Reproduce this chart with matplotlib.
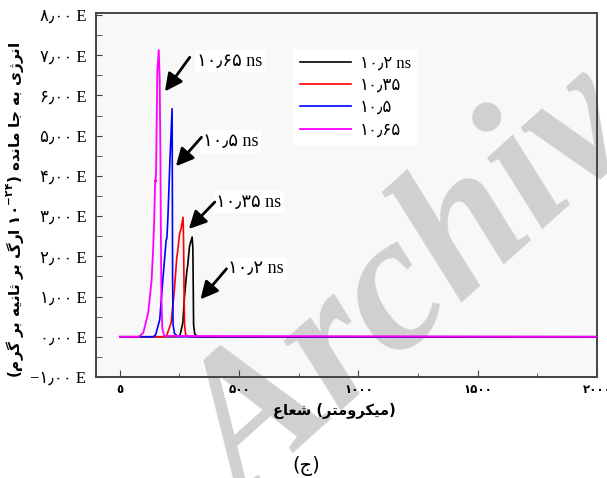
import matplotlib.pyplot as plt
import numpy as np

# contextual letter forms (isolated, final[, initial, medial]) for the Persian labels
FORMS = {
    'ا': '\uFE8D\uFE8E', 'ب': '\uFE8F\uFE90\uFE91\uFE92', 'ت': '\uFE95\uFE96\uFE97\uFE98',
    'ث': '\uFE99\uFE9A\uFE9B\uFE9C', 'ج': '\uFE9D\uFE9E\uFE9F\uFEA0', 'د': '\uFEA9\uFEAA',
    'ر': '\uFEAD\uFEAE', 'ژ': '\uFB8A\uFB8B', 'ش': '\uFEB5\uFEB6\uFEB7\uFEB8',
    'ع': '\uFEC9\uFECA\uFECB\uFECC', 'ک': '\uFB8E\uFB8F\uFB90\uFB91', 'گ': '\uFB92\uFB93\uFB94\uFB95',
    'م': '\uFEE1\uFEE2\uFEE3\uFEE4', 'ن': '\uFEE5\uFEE6\uFEE7\uFEE8', 'ه': '\uFEE9\uFEEA\uFEEB\uFEEC',
    'و': '\uFEED\uFEEE', 'ی': '\uFBFC\uFBFD\uFBFE\uFBFF',
}


def shape(word):
    # join letters and return them in visual (left to right) order
    out = []
    for i, ch in enumerate(word):
        f = FORMS.get(ch)
        if f is None:
            out.append(ch)
            continue
        prev = word[i - 1] if i > 0 else ''
        nxt = word[i + 1] if i + 1 < len(word) else ''
        jp = prev in FORMS and len(FORMS[prev]) == 4
        jn = len(f) == 4 and nxt in FORMS
        out.append(f[3] if jp and jn else f[1] if jp else f[2] if jn else f[0])
    return ''.join(reversed(out))


def phrase(text):
    return ' '.join(shape(w) for w in reversed(text.split()))


fa = str.maketrans('0123456789', '۰۱۲۳۴۵۶۷۸۹')

#=========================================================#
# remaining energy vs radius, four times
r_102 = [0, 240, 252, 264, 271, 281, 284, 292, 303, 306, 308, 309, 314, 325, 2000]
e_102 = [0, 0, 0.03, 0.35, 1.0, 1.65, 1.75, 2.25, 2.48, 2.2, 1.0, 0.3, 0.07, 0, 0]

r_1035 = [0, 190, 196, 215, 229, 239, 242, 250, 257, 265, 267, 269, 271, 276, 290, 2000]
e_1035 = [0, 0, 0.03, 0.35, 1.2, 2.0, 2.1, 2.55, 2.7, 2.97, 2.4, 1.2, 0.3, 0.05, 0, 0]

r_105 = [0, 140, 150, 167, 180, 194, 197, 201, 210, 219, 220, 221, 223, 229, 245, 2000]
e_105 = [0, 0, 0.05, 0.42, 1.4, 2.4, 2.45, 2.9, 4.4, 5.67, 3.8, 1.5, 0.3, 0.08, 0, 0]

r_1065 = [0, 80, 98, 119, 133, 140, 144, 147, 149, 150, 152, 157, 163, 167, 170, 172, 174, 178, 186, 2000]
e_1065 = [0, 0, 0.1, 0.6, 1.4, 2.25, 2.9, 3.7, 3.9, 3.85, 4.2, 6.6, 7.13, 6.4, 4.5, 2.5, 1.0, 0.2, 0.02, 0]

legend_labels = ['۱۰٫۲ ns', '۱۰٫۳۵', '۱۰٫۵', '۱۰٫۶۵']
arrow_labels = ['۱۰٫۶۵ ns', '۱۰٫۵ ns', '۱۰٫۳۵ ns', '۱۰٫۲ ns']
arrow_tail = [(293, 6.95), (342, 4.96), (398, 3.35), (447, 1.69)]
arrow_head = [(189, 6.10), (235, 4.24), (289, 2.68), (338, 0.93)]
arrow_text = [(325, 6.85), (347, 4.85), (405, 3.35), (455, 1.69)]

x_ticks = [0, 500, 1000, 1500, 2000]
x_ticklabels = ['٥', '۵۰۰', '۱۰۰۰', '۱۵۰۰', '۲۰۰۰']
y_ticks = list(range(-1, 9))
#=========================================================#

serif = ['Liberation Serif', 'DejaVu Sans']

fig = plt.figure(figsize=(6.07, 4.78), dpi=100)
ax = fig.add_axes([96 / 607, 101 / 478, 501 / 607, 364 / 478])
ax.set_facecolor('#f8f8f8')

ax.plot(r_102, e_102, color='black', lw=1.2, zorder=4, label=legend_labels[0])
ax.plot(r_1035, e_1035, color='#ff0000', lw=1.2, zorder=4, label=legend_labels[1])
ax.plot(r_105, e_105, color='#0000ff', lw=1.2, zorder=4, label=legend_labels[2])
ax.plot(r_1065, e_1065, color='#ff00ff', lw=1.3, zorder=4, label=legend_labels[3])

for lab, t, h, p in zip(arrow_labels, arrow_tail, arrow_head, arrow_text):
    ax.annotate('', xy=h, xytext=t, zorder=3,
                arrowprops=dict(arrowstyle='-|>,head_length=0.7,head_width=0.35',
                                color='black', lw=2, mutation_scale=15, shrinkA=0, shrinkB=0))
    ax.text(p[0], p[1], lab, ha='left', va='center', fontsize=13, family=serif, zorder=1.2,
            bbox=dict(facecolor='white', edgecolor='none', pad=2))

leg = ax.legend(loc='upper left', bbox_to_anchor=(0.393, 0.902), borderaxespad=0,
                frameon=True, fancybox=False, framealpha=1, edgecolor='none',
                handlelength=3.1, handletextpad=0.5, labelspacing=0.38, borderpad=0.4,
                prop={'family': serif, 'size': 12})
leg.set_zorder(1.2)

ax.set_xlim(-100, 2000)
ax.set_ylim(-1, 8.05)
ax.set_xticks(x_ticks)
ax.set_xticklabels(x_ticklabels, fontsize=8.5, fontweight='bold', family='DejaVu Sans')
ax.set_xticks([250, 750, 1250, 1750], minor=True)
ax.set_yticks(y_ticks)
ax.set_yticklabels([('−' if v < 0 else '') + str(abs(v)).translate(fa) + '٫۰۰ E' for v in y_ticks],
                   fontsize=12, family=serif)
ax.set_yticks(np.arange(-0.5, 8, 1), minor=True)
ax.tick_params(which='both', direction='in', color='#444444')
ax.tick_params(axis='x', which='major', length=5, pad=4)
ax.tick_params(axis='x', which='minor', length=3)
ax.tick_params(axis='y', which='both', length=4, pad=7)
for s in ax.spines.values():
    s.set_color('#444444')
    s.set_linewidth(1.4)

ax.set_xlabel(shape('شعاع') + ' (' + shape('میکرومتر') + ')',
              fontsize=10.5, fontweight='bold', family='DejaVu Sans')
ax.xaxis.set_label_coords(0.475, -0.071)
ylab = '(' + phrase('ارگ بر ثانیه بر گرم') + ' ۱۰^{-۲۴})' + ' ' + phrase('انرژی به جا مانده')
ax.set_ylabel(r'$\mathbf{' + ylab.replace(' ', r'\ ') + '}$', fontsize=11)
ax.yaxis.set_label_coords(-0.14, 0.46)

fig.text(306 / 607, 1 - 466 / 478, '(' + 'ج' + ')', ha='center', va='center',
         fontsize=14, family='DejaVu Sans')

# watermark, under the curves and the axis labels
ax.text(0.736, 0.452, 'Archive', transform=fig.transFigure, clip_on=False,
        rotation=42, rotation_mode='anchor', ha='center', va='center',
        fontsize=140, fontweight='bold', fontstyle='italic', family='Liberation Serif',
        color='#d0d0d0', zorder=1.4)

plt.savefig('out.png', dpi=100)
